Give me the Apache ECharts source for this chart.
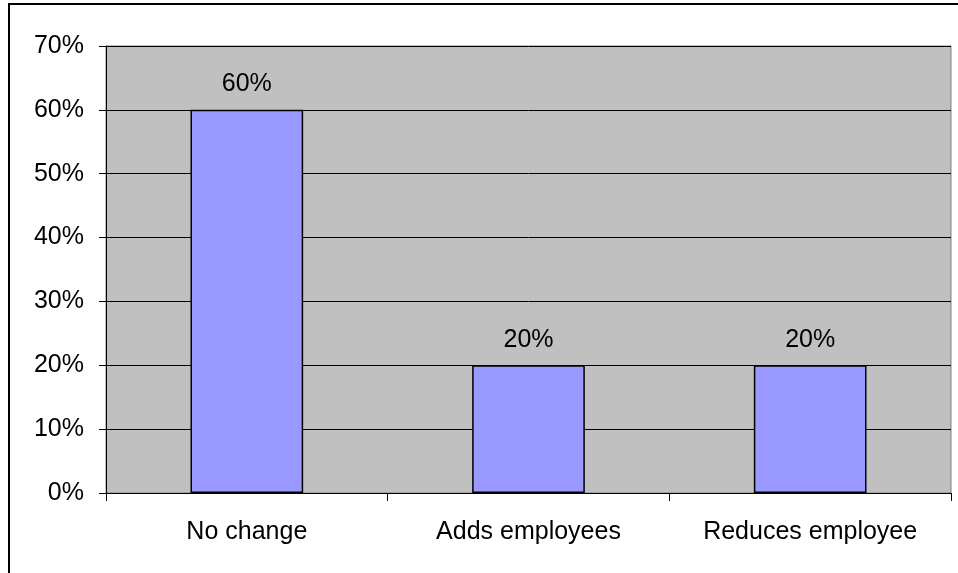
<!DOCTYPE html>
<html>
<head>
<meta charset="utf-8">
<script src="https://cdn.jsdelivr.net/npm/echarts@6/dist/echarts.min.js"></script>
<style>
  html, body { margin: 0; padding: 0; background: #fff; }
  #chart { width: 958px; height: 573px; }
</style>
</head>
<body>
<div id="chart"></div>
<script>
const categories = ['No change', 'Adds employees', 'Reduces employee']
const values = [60, 20, 20]

const chart = echarts.init(document.getElementById('chart'))
const font = 'Liberation Sans, Arial, sans-serif'

chart.setOption({
  backgroundColor: '#fff',
  animation: false,
  // outer chart border
  graphic: [{
    type: 'rect',
    shape: { x: 9, y: 4, width: 980, height: 600 },
    style: { fill: 'none', stroke: '#000', lineWidth: 2 },
    silent: true
  }],
  grid: {
    left: 106,
    top: 46,
    right: 7,
    bottom: 80,
    show: true,
    backgroundColor: '#C0C0C0',
    borderColor: '#808080',
    borderWidth: 1
  },
  xAxis: {
    type: 'category',
    data: categories,
    axisLine: { show: true, lineStyle: { color: '#000', width: 1 } },
    axisTick: { show: true, length: 8, lineStyle: { color: '#000' } },
    axisLabel: { color: '#000', fontSize: 25, fontFamily: font, margin: 27 },
    splitLine: { show: false }
  },
  yAxis: {
    type: 'value',
    min: 0,
    max: 70,
    interval: 10,
    axisLine: { show: true, lineStyle: { color: '#000', width: 1 } },
    axisTick: { show: true, length: 7, lineStyle: { color: '#000' } },
    axisLabel: { color: '#000', fontSize: 25, fontFamily: font, margin: 22, formatter: '{value}%' },
    splitLine: { show: true, lineStyle: { color: '#000', width: 1 } }
  },
  series: [{
    type: 'bar',
    data: values,
    barWidth: '40%',
    itemStyle: { color: '#9999FF', borderColor: '#000', borderWidth: 1.5 },
    label: {
      show: true,
      position: 'top',
      distance: 13,
      color: '#000',
      fontSize: 25,
      fontFamily: font,
      formatter: '{c}%'
    }
  }]
})
</script>
</body>
</html>
